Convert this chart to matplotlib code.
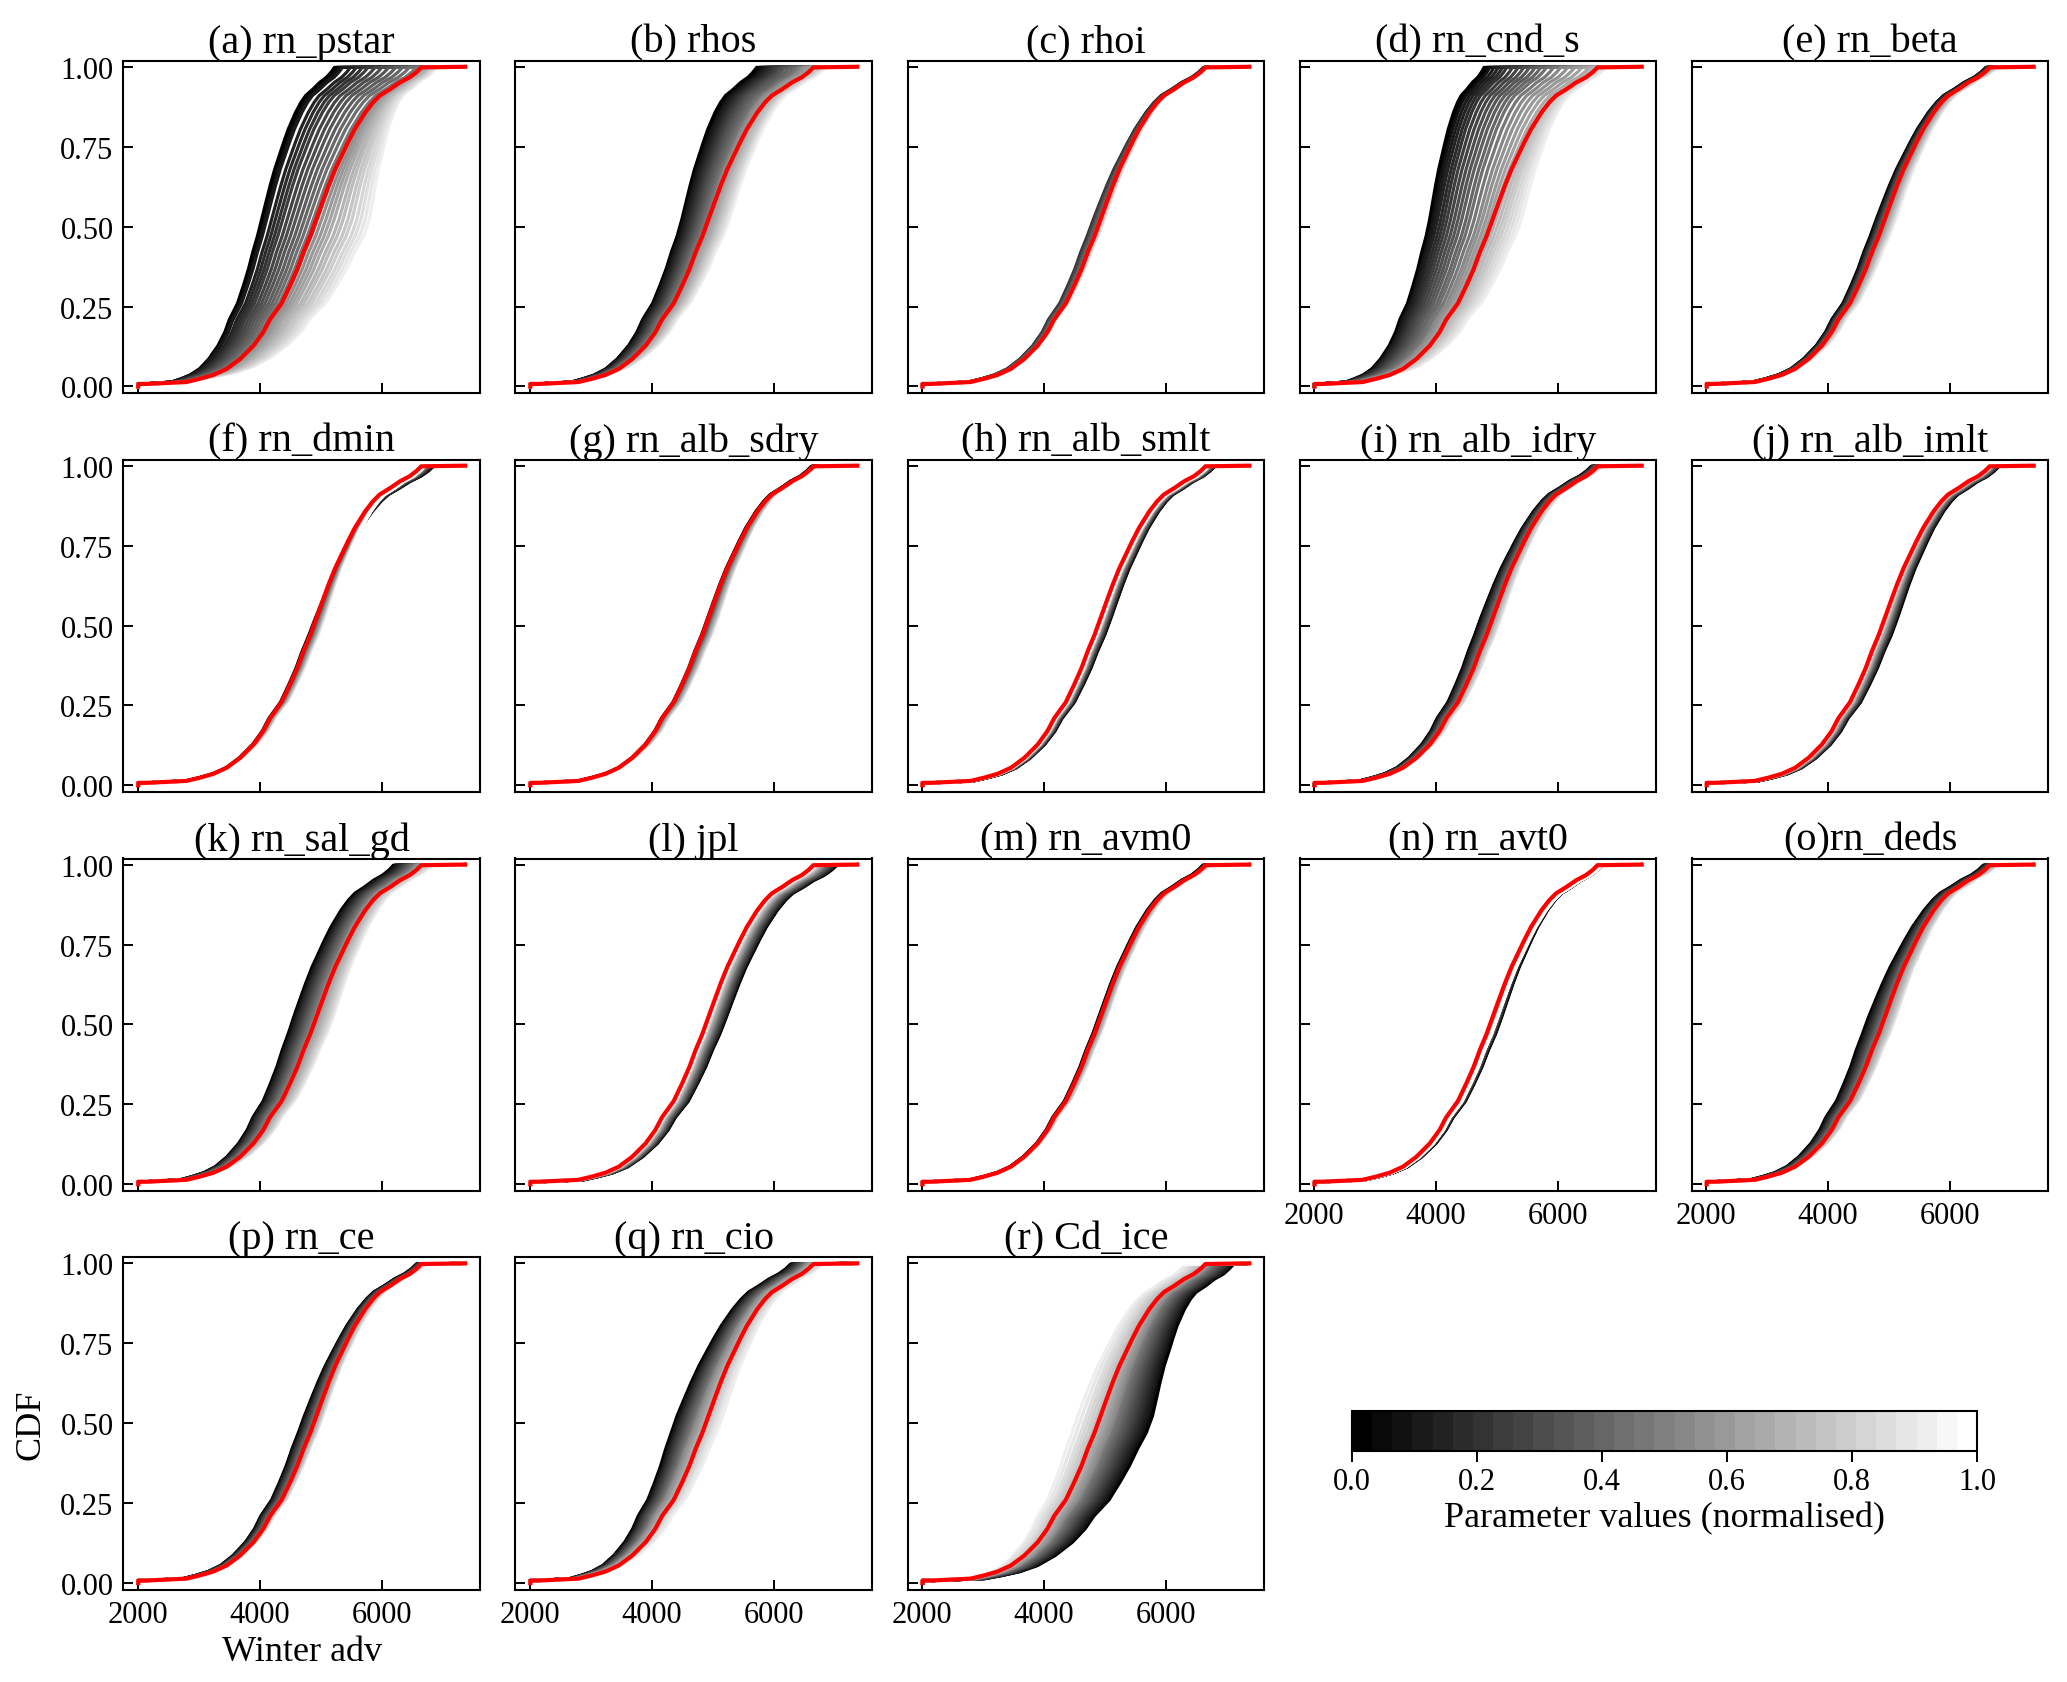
import numpy as np
import matplotlib
matplotlib.use("Agg")
import matplotlib.pyplot as plt
from matplotlib.colors import Normalize

plt.rcParams['font.family'] = 'serif'
plt.rcParams['font.serif'] = ['Liberation Serif', 'DejaVu Serif']

# Reference (default) run: CDF levels and winter advection, same in every panel
RED_CDF = [0.0, 0.008, 0.008, 0.014, 0.024, 0.036, 0.055, 0.086, 0.128, 0.17, 0.21,
           0.26, 0.316, 0.368, 0.42, 0.47, 0.523, 0.576, 0.628, 0.68, 0.732, 0.764,
           0.805, 0.857, 0.889, 0.91, 0.93, 0.951, 0.967, 0.983, 0.998, 1.0]
RED_X = [2010, 2010, 2150, 2800, 3020, 3240, 3460, 3680, 3900, 4060, 4170,
         4360, 4500, 4620, 4720, 4830, 4930, 5030, 5130, 5240, 5370, 5450,
         5560, 5730, 5860, 5970, 6140, 6300, 6460, 6570, 6650, 7370]

# normalised parameter value of each perturbed member
PARAM_NORM = [0.00, 0.03, 0.07, 0.10, 0.14, 0.17, 0.21, 0.24, 0.28, 0.31,
              0.34, 0.38, 0.41, 0.45, 0.48, 0.52, 0.55, 0.59, 0.62, 0.66,
              0.69, 0.72, 0.76, 0.79, 0.83, 0.86, 0.90, 0.93, 0.97, 1.00]

TITLES = ['(a) rn_pstar', '(b) rhos', '(c) rhoi', '(d) rn_cnd_s', '(e) rn_beta',
          '(f) rn_dmin', '(g) rn_alb_sdry', '(h) rn_alb_smlt', '(i) rn_alb_idry', '(j) rn_alb_imlt',
          '(k) rn_sal_gd', '(l) jpl', '(m) rn_avm0', '(n) rn_avt0', '(o)rn_deds',
          '(p) rn_ce', '(q) rn_cio', '(r) Cd_ice']

# ratio of each member to the reference run (above 2000), lower half and near the top
mid_a = [0.694, 0.701, 0.712, 0.722, 0.75, 0.771, 0.792, 0.812, 0.837, 0.861, 0.885, 0.91, 0.934, 0.958, 0.983,
         1.007, 1.031, 1.056, 1.08, 1.104, 1.132, 1.156, 1.184, 1.208, 1.236, 1.26, 1.285, 1.309, 1.33, 1.36]
top_a = [0.694, 0.701, 0.712, 0.722, 0.75, 0.771, 0.792, 0.812, 0.837, 0.861, 0.885, 0.91, 0.934, 0.958, 0.983,
         1.0, 1.01, 1.015, 1.02, 1.025, 1.03, 1.035, 1.04, 1.045, 1.05, 1.055, 1.06, 1.065, 1.07, 1.075]
mid_b = [0.854, 0.858, 0.865, 0.875, 0.885, 0.896, 0.906, 0.917, 0.927, 0.938, 0.948, 0.958, 0.969, 0.979, 0.99,
         1.0, 1.01, 1.021, 1.031, 1.042, 1.056, 1.066, 1.076, 1.087, 1.097, 1.108, 1.118, 1.128, 1.139, 1.146]
top_b = [0.80, 0.81, 0.82, 0.83, 0.84, 0.85, 0.86, 0.87, 0.88, 0.89, 0.90, 0.915, 0.93, 0.94, 0.95,
         0.96, 0.97, 0.98, 0.99, 1.0, 1.005, 1.01, 1.02, 1.03, 1.035, 1.04, 1.045, 1.05, 1.06, 1.065]
mid_c = [0.985, 0.979, 0.975, 0.969, 0.964, 0.969, 0.958, 0.964, 0.969, 0.975, 0.979, 0.985, 0.99, 0.996, 1.0,
         1.004, 1.01, 1.015, 1.015, 1.021, 1.021, 1.025, 1.025, 1.031, 1.031, 1.036, 1.036, 1.042, 1.042, 1.046]
top_c = [1.0, 0.998, 0.996, 0.996, 0.993, 0.996, 0.998, 1.0, 1.002, 1.004, 1.004, 1.007, 1.007, 1.009, 1.009,
         1.011, 1.011, 1.013, 1.013, 1.015, 1.015, 1.017, 1.017, 1.02, 1.02, 1.022, 1.022, 1.024, 1.024, 1.026]
mid_d = [0.65, 0.657, 0.667, 0.68, 0.694, 0.712, 0.729, 0.747, 0.767, 0.788, 0.809, 0.83, 0.854, 0.875, 0.9,
         0.924, 0.944, 0.965, 0.983, 1.0, 1.021, 1.042, 1.063, 1.083, 1.104, 1.125, 1.146, 1.167, 1.188, 1.208]
top_d = [0.60, 0.61, 0.62, 0.635, 0.65, 0.665, 0.68, 0.70, 0.72, 0.74, 0.76, 0.78, 0.80, 0.82, 0.845,
         0.87, 0.895, 0.92, 0.945, 0.97, 0.985, 0.995, 1.005, 1.01, 1.02, 1.025, 1.03, 1.04, 1.045, 1.05]
mid_e = [0.951, 0.955, 0.958, 0.962, 0.965, 0.969, 0.972, 0.976, 0.981, 0.986, 0.99, 0.993, 0.998, 1.003, 1.007,
         1.012, 1.017, 1.023, 1.028, 1.033, 1.038, 1.043, 1.049, 1.054, 1.059, 1.064, 1.069, 1.075, 1.082, 1.087]
top_e = [0.987, 0.988, 0.989, 0.991, 0.992, 0.993, 0.996, 0.997, 0.999, 1.0, 1.002, 1.004, 1.007, 1.009, 1.011,
         1.013, 1.015, 1.017, 1.02, 1.022, 1.024, 1.026, 1.028, 1.03, 1.033, 1.035, 1.037, 1.039, 1.041, 1.043]
mid_f = [1.0, 0.992, 1.006, 0.997, 1.012, 1.003, 1.015, 1.008, 1.021, 1.012, 1.025, 1.018, 1.03, 1.024, 1.036,
         1.03, 1.04, 1.036, 1.045, 1.042, 1.05, 1.046, 1.054, 1.051, 1.058, 1.055, 1.061, 1.06, 1.066, 1.068]
top_f = [1.043, 1.041, 1.039, 1.037, 1.035, 1.033, 1.03, 1.028, 1.026, 1.024, 1.022, 1.021, 1.02, 1.018, 1.017,
         1.016, 1.015, 1.014, 1.013, 1.013, 1.012, 1.012, 1.011, 1.011, 1.011, 1.01, 1.01, 1.01, 1.009, 1.009]
mid_g = [1.0, 0.995, 1.005, 1.0, 1.01, 1.005, 1.015, 1.01, 1.021, 1.015, 1.025, 1.021, 1.031, 1.028, 1.036,
         1.034, 1.042, 1.039, 1.046, 1.046, 1.052, 1.052, 1.057, 1.06, 1.063, 1.064, 1.067, 1.07, 1.073, 1.078]
top_g = [0.993, 0.995, 0.996, 0.998, 0.999, 1.0, 1.002, 1.003, 1.004, 1.007, 1.008, 1.009, 1.011, 1.012, 1.013,
         1.014, 1.015, 1.016, 1.017, 1.018, 1.02, 1.021, 1.022, 1.022, 1.023, 1.024, 1.024, 1.025, 1.026, 1.026]
mid_h = [1.059, 1.057, 1.056, 1.052, 1.05, 1.049, 1.045, 1.043, 1.042, 1.038, 1.036, 1.035, 1.033, 1.031, 1.028,
         1.026, 1.024, 1.023, 1.021, 1.019, 1.017, 1.017, 1.016, 1.016, 1.014, 1.014, 1.012, 1.012, 1.01, 1.01]
top_h = [1.033, 1.032, 1.03, 1.029, 1.028, 1.027, 1.026, 1.025, 1.024, 1.023, 1.022, 1.021, 1.02, 1.018, 1.017,
         1.016, 1.015, 1.014, 1.013, 1.013, 1.012, 1.012, 1.011, 1.011, 1.01, 1.01, 1.009, 1.009, 1.009, 1.009]
mid_i = [0.931, 0.934, 0.938, 0.943, 0.948, 0.951, 0.957, 0.962, 0.967, 0.972, 0.977, 0.983, 0.988, 0.993, 0.998,
         1.003, 1.009, 1.014, 1.019, 1.024, 1.03, 1.035, 1.04, 1.045, 1.05, 1.056, 1.059, 1.063, 1.066, 1.069]
top_i = [0.978, 0.979, 0.98, 0.983, 0.984, 0.986, 0.987, 0.989, 0.991, 0.992, 0.995, 0.997, 0.998, 1.0, 1.002,
         1.004, 1.007, 1.009, 1.011, 1.013, 1.015, 1.017, 1.02, 1.022, 1.024, 1.026, 1.028, 1.029, 1.032, 1.033]
mid_j = [1.073, 1.069, 1.068, 1.064, 1.061, 1.059, 1.056, 1.052, 1.05, 1.047, 1.043, 1.042, 1.038, 1.035, 1.033,
         1.03, 1.028, 1.024, 1.021, 1.019, 1.017, 1.014, 1.012, 1.01, 1.009, 1.007, 1.005, 1.003, 1.002, 1.0]
top_j = [1.033, 1.032, 1.03, 1.028, 1.027, 1.026, 1.024, 1.023, 1.022, 1.02, 1.018, 1.017, 1.015, 1.014, 1.013,
         1.011, 1.01, 1.009, 1.008, 1.007, 1.005, 1.004, 1.003, 1.002, 1.001, 1.0, 0.999, 0.998, 0.997, 0.996]
mid_k = [0.872, 0.877, 0.882, 0.889, 0.896, 0.903, 0.911, 0.92, 0.929, 0.937, 0.946, 0.955, 0.964, 0.972, 0.983,
         0.993, 1.003, 1.014, 1.024, 1.035, 1.045, 1.056, 1.066, 1.076, 1.085, 1.094, 1.102, 1.109, 1.116, 1.122]
top_k = [0.902, 0.907, 0.911, 0.916, 0.922, 0.927, 0.933, 0.938, 0.943, 0.949, 0.954, 0.96, 0.965, 0.971, 0.976,
         0.982, 0.987, 0.992, 0.998, 1.003, 1.009, 1.014, 1.02, 1.025, 1.03, 1.036, 1.041, 1.047, 1.053, 1.059]
mid_l = [1.101, 1.099, 1.095, 1.092, 1.089, 1.085, 1.082, 1.076, 1.073, 1.069, 1.064, 1.061, 1.056, 1.052, 1.049,
         1.043, 1.04, 1.035, 1.031, 1.028, 1.024, 1.021, 1.019, 1.017, 1.016, 1.014, 1.012, 1.01, 1.009, 1.007]
top_l = [1.083, 1.08, 1.078, 1.075, 1.072, 1.07, 1.066, 1.063, 1.06, 1.057, 1.053, 1.05, 1.047, 1.043, 1.04,
         1.037, 1.034, 1.03, 1.027, 1.024, 1.022, 1.02, 1.017, 1.015, 1.013, 1.011, 1.009, 1.007, 1.004, 1.002]
mid_m = [0.99, 0.995, 0.992, 1.0, 0.997, 1.004, 1.0, 1.008, 1.004, 1.01, 1.008, 1.015, 1.013, 1.021, 1.018,
         1.025, 1.024, 1.031, 1.028, 1.036, 1.034, 1.042, 1.039, 1.046, 1.045, 1.052, 1.049, 1.057, 1.054, 1.063]
top_m = [0.991, 0.992, 0.993, 0.996, 0.997, 0.998, 1.0, 1.001, 1.002, 1.004, 1.005, 1.007, 1.009, 1.01, 1.011,
         1.013, 1.014, 1.015, 1.017, 1.018, 1.02, 1.022, 1.023, 1.024, 1.026, 1.027, 1.028, 1.03, 1.032, 1.033]
mid_n = [1.052, 1.05, 1.049, 1.045, 1.043, 1.042, 1.04, 1.038, 1.036, 1.035, 1.033, 1.031, 1.03, 1.028, 1.026,
         1.024, 1.024, 1.024, 1.024, 1.024, 1.026, 1.026, 1.026, 1.026, 1.028, 1.028, 1.028, 1.028, 1.028, 1.028]
top_n = [1.017, 1.016, 1.015, 1.014, 1.013, 1.012, 1.011, 1.01, 1.009, 1.008, 1.007, 1.005, 1.004, 1.003, 1.002,
         1.002, 1.003, 1.004, 1.005, 1.007, 1.008, 1.009, 1.01, 1.011, 1.012, 1.013, 1.014, 1.015, 1.016, 1.017]
mid_o = [0.906, 0.911, 0.917, 0.924, 0.931, 0.936, 0.943, 0.95, 0.957, 0.964, 0.97, 0.977, 0.984, 0.991, 0.998,
         1.005, 1.012, 1.019, 1.026, 1.033, 1.04, 1.047, 1.054, 1.061, 1.066, 1.071, 1.076, 1.08, 1.083, 1.087]
top_o = [0.978, 0.979, 0.982, 0.984, 0.986, 0.988, 0.99, 0.992, 0.995, 0.997, 0.999, 1.001, 1.003, 1.005, 1.008,
         1.01, 1.012, 1.014, 1.016, 1.018, 1.022, 1.025, 1.028, 1.032, 1.034, 1.036, 1.038, 1.04, 1.042, 1.043]
mid_p = [0.931, 0.934, 0.938, 0.943, 0.948, 0.951, 0.957, 0.962, 0.967, 0.972, 0.977, 0.983, 0.988, 0.993, 0.998,
         1.003, 1.009, 1.014, 1.019, 1.024, 1.03, 1.035, 1.038, 1.042, 1.045, 1.049, 1.052, 1.056, 1.057, 1.059]
top_p = [0.983, 0.984, 0.985, 0.987, 0.988, 0.989, 0.991, 0.992, 0.993, 0.996, 0.997, 0.998, 1.0, 1.001, 1.002,
         1.004, 1.007, 1.009, 1.011, 1.013, 1.015, 1.017, 1.02, 1.022, 1.024, 1.026, 1.028, 1.03, 1.033, 1.035]
mid_q = [0.82, 0.826, 0.832, 0.839, 0.846, 0.853, 0.86, 0.869, 0.877, 0.886, 0.895, 0.904, 0.913, 0.922, 0.931,
         0.94, 0.951, 0.962, 0.973, 0.984, 0.995, 1.006, 1.017, 1.028, 1.04, 1.052, 1.064, 1.083, 1.102, 1.12]
top_q = [0.92, 0.923, 0.926, 0.929, 0.932, 0.936, 0.94, 0.944, 0.948, 0.952, 0.956, 0.96, 0.964, 0.968, 0.972,
         0.976, 0.98, 0.985, 0.99, 0.995, 1.0, 1.006, 1.012, 1.018, 1.024, 1.03, 1.036, 1.042, 1.048, 1.055]
mid_r = [1.30, 1.29, 1.28, 1.265, 1.25, 1.235, 1.22, 1.205, 1.19, 1.175, 1.16, 1.145, 1.13, 1.115, 1.1,
         1.085, 1.07, 1.055, 1.04, 1.025, 1.01, 0.995, 0.98, 0.96, 0.94, 0.92, 0.895, 0.87, 0.85, 0.83]
top_r = [1.10, 1.096, 1.092, 1.087, 1.082, 1.077, 1.072, 1.066, 1.06, 1.054, 1.048, 1.042, 1.036, 1.03, 1.024,
         1.018, 1.012, 1.006, 1.0, 0.994, 0.987, 0.98, 0.972, 0.964, 0.955, 0.946, 0.936, 0.926, 0.914, 0.904]

MIDS = [mid_a, mid_b, mid_c, mid_d, mid_e, mid_f, mid_g, mid_h, mid_i, mid_j,
        mid_k, mid_l, mid_m, mid_n, mid_o, mid_p, mid_q, mid_r]
TOPS = [top_a, top_b, top_c, top_d, top_e, top_f, top_g, top_h, top_i, top_j,
        top_k, top_l, top_m, top_n, top_o, top_p, top_q, top_r]

X0 = 2000  # lower end of the advection range


def member_curve(mid, top):
    ratio = np.interp(RED_CDF, [0.5, 0.99], [mid, top])
    x = X0 + (np.array(RED_X, dtype=float) - X0) * ratio
    x[-1] = RED_X[-1]
    return np.maximum.accumulate(x)


W, H = 2067, 1683
fig = plt.figure(figsize=(W / 100, H / 100), dpi=100)

cmap = matplotlib.colormaps['gray'].resampled(31)
norm = Normalize(0, 1)

lefts = [123.3, 515.4, 907.5, 1299.6, 1691.7]
tops = [61.7, 460.6, 859.5, 1258.3]
aw, ah = 356.5, 332.5

for k, title in enumerate(TITLES):
    row, col = divmod(k, 5)
    ax = fig.add_axes([lefts[col] / W, 1 - (tops[row] + ah) / H, aw / W, ah / H])
    for p, mid, top in zip(PARAM_NORM, MIDS[k], TOPS[k]):
        ax.plot(member_curve(mid, top), RED_CDF, color=cmap(norm(p)), lw=2.3)
    ax.plot(RED_X, RED_CDF, color='#ff0000', lw=3.0)

    ax.set_xlim(1765, 7610)
    ax.set_ylim(-0.021, 1.019)
    ax.set_xticks([2000, 4000, 6000])
    ax.set_yticks([0, 0.25, 0.5, 0.75, 1.0])
    ax.set_yticklabels(['0.00', '0.25', '0.50', '0.75', '1.00'])
    ax.tick_params(direction='in', length=7, width=1.4, labelsize=22, pad=7)
    for s in ax.spines.values():
        s.set_linewidth(1.5)
    ax.set_title(title, fontsize=29, pad=4)
    if col != 0:
        ax.tick_params(labelleft=False)
    if k < 13:
        ax.tick_params(labelbottom=False)

fig.text(31 / W, 1 - 1425 / H, 'CDF', rotation=90, fontsize=26, ha='center', va='center')
fig.text(302 / W, 1 - 1653 / H, 'Winter adv', fontsize=26, ha='center', va='center')

cax = fig.add_axes([1352 / W, 1 - 1452 / H, 625 / W, 40 / H])
sm = matplotlib.cm.ScalarMappable(norm=norm, cmap=cmap)
cb = fig.colorbar(sm, cax=cax, orientation='horizontal', ticks=[0, 0.2, 0.4, 0.6, 0.8, 1.0])
cb.outline.set_linewidth(1.5)
cb.ax.tick_params(labelsize=22, length=8, width=1.4)
cb.set_label('Parameter values (normalised)', fontsize=26)

fig.savefig('out.png', dpi=100)
